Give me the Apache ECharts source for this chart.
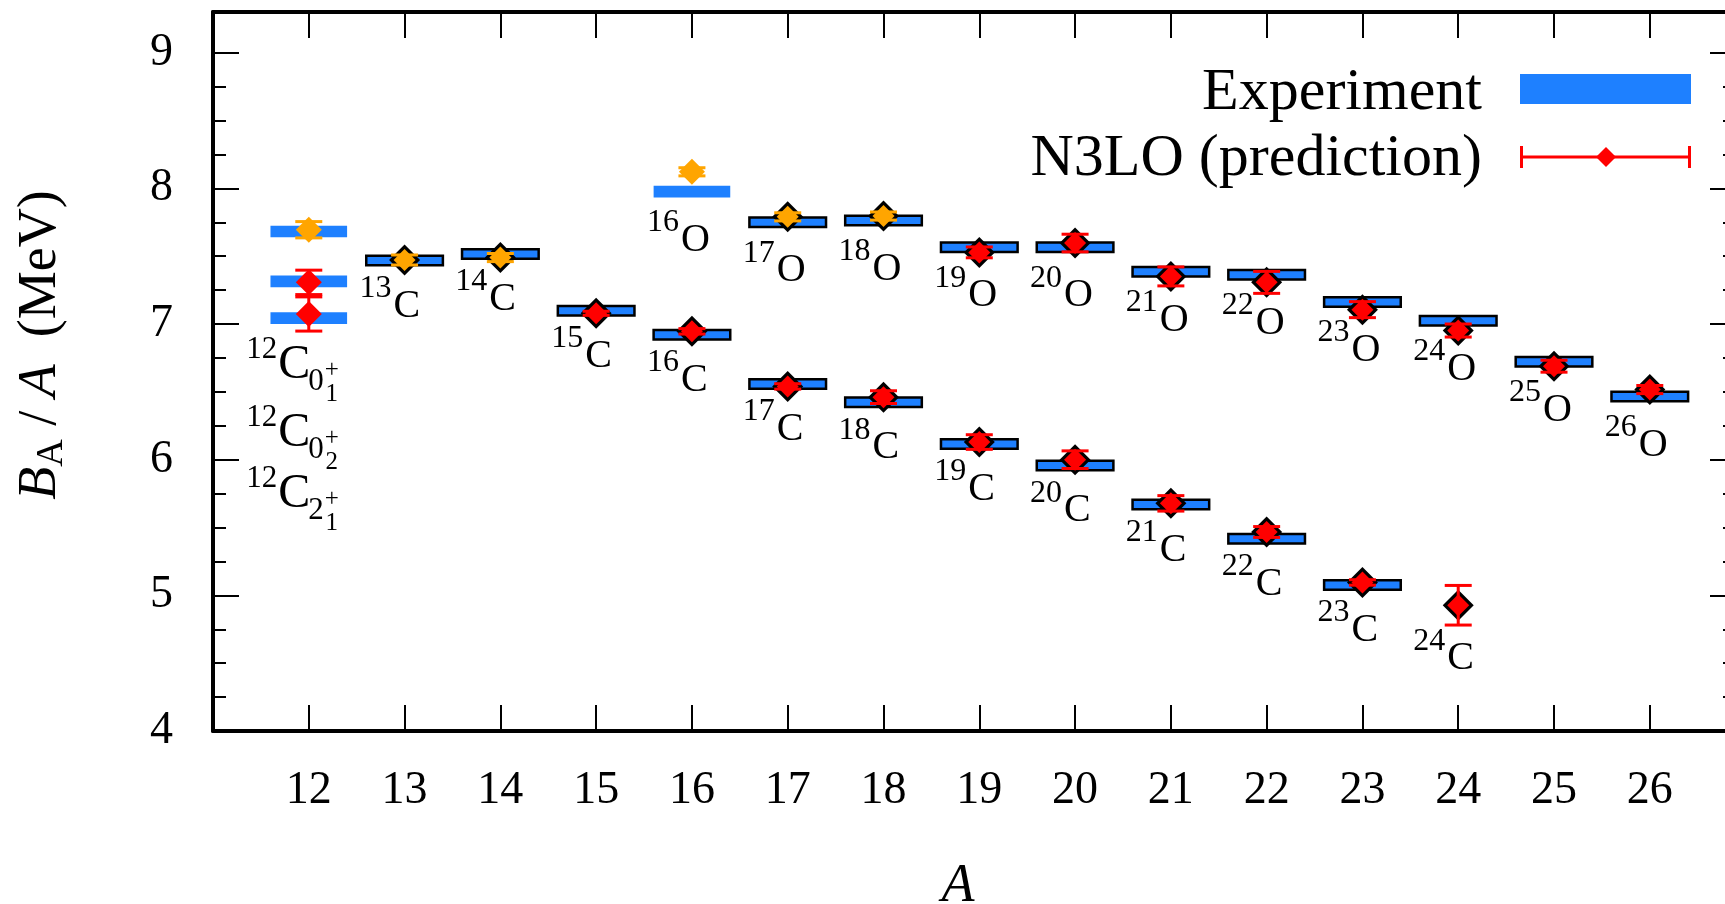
<!DOCTYPE html>
<html>
<head>
<meta charset="utf-8">
<script src="https://cdn.jsdelivr.net/npm/echarts@6/dist/echarts.min.js"></script>
<style>
html,body{margin:0;padding:0;background:#fff;}
#chart{width:1725px;height:904px;}
</style>
</head>
<body>
<div id="chart"></div>
<script>
// ---------------- DATA ----------------
const xTicks = [12,13,14,15,16,17,18,19,20,21,22,23,24,25,26];
const yTicks = [4,5,6,7,8,9];

// 12C states (order of the label column: 0_1+, 0_2+, 2_1+)
const c12StateJ      = ['0','0','2'];
const c12StateIndex  = ['1','2','1'];
const c12Exp   = [7.682, 7.044, 7.314];
const c12Pred  = [7.695, 7.074, 7.307];
const c12Err   = [0.060, 0.126, 0.090];
const c12Fit   = [true, false, false];

// Carbon isotopes
const carbonA    = [13,14,15,16,17,18,19,20,21,22,23,24];
const carbonExp  = [7.468,7.517,7.097,6.920,6.558,6.424,6.116,5.958,5.669,5.418,5.077,null];
const carbonPred = [7.472,7.490,7.079,6.946,6.540,6.461,6.130,6.000,5.678,5.467,5.095,4.927];
const carbonErr  = [0.037,0.030,0.015,0.020,0.020,0.047,0.054,0.065,0.057,0.040,0.020,0.146];
const carbonFit  = [true,true,false,false,false,false,false,false,false,false,false,false];

// Oxygen isotopes
const oxygenA    = [16,17,18,19,20,21,22,23,24,25,26];
const oxygenExp  = [7.976,7.750,7.763,7.565,7.565,7.386,7.364,7.163,7.025,6.721,6.465];
const oxygenPred = [8.122,7.790,7.796,7.528,7.597,7.351,7.307,7.106,6.952,6.689,6.517];
const oxygenErr  = [0.030,0.030,0.030,0.040,0.065,0.070,0.081,0.059,0.048,0.044,0.030];
const oxygenFit  = [true,true,true,false,false,false,false,false,false,false,false];

const legendExperiment = 'Experiment';
const legendPrediction = 'N3LO (prediction)';

// ---------------- STYLE ----------------
const FONT = '"Liberation Serif","Times New Roman",Times,serif';
const BLUE = '#1E80FF', RED = '#FF0000', ORANGE = '#FFA500';

// ---------------- BUILD ----------------
const points = [];
c12Exp.forEach((e,i)=>points.push({a:12, exp:e, pred:c12Pred[i], err:c12Err[i], fit:c12Fit[i], framed:false}));
carbonA.forEach((a,i)=>points.push({a, el:'C', exp:carbonExp[i], pred:carbonPred[i], err:carbonErr[i], fit:carbonFit[i], framed:true}));
oxygenA.forEach((a,i)=>points.push({a, el:'O', exp:oxygenExp[i], pred:oxygenPred[i], err:oxygenErr[i], fit:oxygenFit[i], framed:(a!==16)}));

const isoLabels = points.filter(p=>p.el).map(p=>({a:p.a, el:p.el, hasExp:p.exp!=null, anchor:(p.exp!=null?p.exp:p.pred)}));

const yMinor = [];
for (let i=0;i<yTicks.length-1;i++) for (let k=1;k<4;k++) yMinor.push(+(yTicks[i]+(yTicks[i+1]-yTicks[i])*k/4).toFixed(4));

function axisCommonX(pos, showLabel){
  return {type:'value', position:pos, min:11, max:26.9,
    axisLine:{show:true, onZero:false, lineStyle:{color:'#000', width:4}},
    axisTick:{show:true, inside:true, length:26, lineStyle:{color:'#000', width:2}, customValues:xTicks},
    axisLabel:{show:showLabel, customValues:xTicks, margin:37, fontSize:46, lineHeight:46, fontFamily:FONT, color:'#000'},
    splitLine:{show:false}};
}
function axisY(pos, major){
  return {type:'value', position:pos, min:4, max:9.3,
    axisLine:{show:major, onZero:false, lineStyle:{color:'#000', width:4}},
    axisTick:{show:true, inside:true, length:major?26:13, lineStyle:{color:'#000', width:2}, customValues: major?yTicks:yMinor},
    axisLabel:{show:(major && pos==='left'), customValues:yTicks, margin:40, fontSize:46, fontFamily:FONT, color:'#000'},
    splitLine:{show:false}};
}

function barSeries(framed){
  return {type:'custom', z:2, silent:true, coordinateSystem:'cartesian2d', xAxisIndex:0, yAxisIndex:0,
    encode:{x:0,y:1},
    data: points.filter(p=>p.exp!=null && p.framed===framed).map(p=>[p.a,p.exp]),
    renderItem(params, api){
      const a=api.value(0), v=api.value(1);
      const l=api.coord([a-0.4,v]), r=api.coord([a+0.4,v]);
      const h = framed?9.5:11.7;
      return {type:'rect', shape:{x:l[0], y:l[1]-h/2, width:r[0]-l[0], height:h},
        style:{fill:BLUE, stroke: framed?'#000':null, lineWidth: framed?2.5:0}};
    }};
}
function errSeries(fit){
  const color = fit?ORANGE:RED;
  return {type:'custom', z:4, silent:true, coordinateSystem:'cartesian2d', xAxisIndex:0, yAxisIndex:0,
    encode:{x:0,y:1},
    data: points.filter(p=>p.fit===fit).map(p=>[p.a,p.pred,p.err]),
    renderItem(params, api){
      const a=api.value(0), v=api.value(1), e=api.value(2);
      const t=api.coord([a,v+e]), b=api.coord([a,v-e]);
      const hw=13.5, st={stroke:color, lineWidth:3};
      return {type:'group', children:[
        {type:'line', shape:{x1:t[0],y1:t[1],x2:b[0],y2:b[1]}, style:st},
        {type:'line', shape:{x1:t[0]-hw,y1:t[1],x2:t[0]+hw,y2:t[1]}, style:st},
        {type:'line', shape:{x1:b[0]-hw,y1:b[1],x2:b[0]+hw,y2:b[1]}, style:st}
      ]};
    }};
}
function diamondSeries(fit){
  return {type:'scatter', z:5, silent:true, xAxisIndex:0, yAxisIndex:0, symbol:'diamond',
    itemStyle:{color: fit?ORANGE:RED, opacity:1},
    data: points.filter(p=>p.fit===fit).map(p=>({value:[p.a,p.pred], symbolSize: p.framed?22:26}))};
}

const option = {
  animation:false,
  backgroundColor:'#ffffff',
  grid:{left:213, top:12, width:1523, height:719, containLabel:false, outerBoundsMode:'none'},
  xAxis:[axisCommonX('bottom',true), axisCommonX('top',false)],
  yAxis:[axisY('left',true), axisY('left',false), axisY('right',true), axisY('right',false)],
  series:[
    barSeries(false), barSeries(true),
    {type:'scatter', z:3, silent:true, xAxisIndex:0, yAxisIndex:0, symbol:'diamond', symbolSize:31,
      itemStyle:{color:'#000', opacity:1},
      data: points.filter(p=>p.framed).map(p=>[p.a,p.pred])},
    errSeries(false), errSeries(true),
    diamondSeries(false), diamondSeries(true),
    {type:'custom', z:6, silent:true, coordinateSystem:'cartesian2d', xAxisIndex:0, yAxisIndex:0,
      encode:{x:0,y:1},
      data: isoLabels.map(l=>[l.a,l.anchor]),
      renderItem(params, api){
        const info = isoLabels[params.dataIndex];
        const p = api.coord([api.value(0), api.value(1)]);
        const capTop = p[1] + (info.hasExp ? (info.el==='O'?35:32) : 40);
        const left = p[0]-11;
        return {type:'group', children:[
          {type:'text', x:left, y:capTop+13.5, style:{text:info.el, fill:'#000', font:'40px '+FONT, align:'left', verticalAlign:'middle'}},
          {type:'text', x:left-2, y:capTop-4, style:{text:String(info.a), fill:'#000', font:'32px '+FONT, align:'right', verticalAlign:'middle'}}
        ]};
      }}
  ]
};

const chart = echarts.init(document.getElementById('chart'), null, {renderer:'canvas', width:1725, height:904});
chart.setOption(option);

// annotations (legend, axis titles, 12C state labels)
const x12 = chart.convertToPixel({xAxisIndex:0}, 12);
const c12RowCenters = [365, 433, 494];
const g = [];
c12RowCenters.forEach((cy,i)=>{
  g.push({type:'text', x:x12-31.5, y:cy-15, style:{text:'12', font:'31px '+FONT, fill:'#000', align:'right', verticalAlign:'middle'}});
  g.push({type:'text', x:x12-30.5, y:cy, style:{text:'C', font:'48px '+FONT, fill:'#000', align:'left', verticalAlign:'middle'}});
  g.push({type:'text', x:x12-0.5, y:cy+17, style:{text:c12StateJ[i], font:'31px '+FONT, fill:'#000', align:'left', verticalAlign:'middle'}});
  g.push({type:'text', x:x12+23, y:cy+5, style:{text:'+', font:'25px '+FONT, fill:'#000', align:'center', verticalAlign:'middle'}});
  g.push({type:'text', x:x12+23, y:cy+29, style:{text:c12StateIndex[i], font:'25px '+FONT, fill:'#000', align:'center', verticalAlign:'middle'}});
});
// legend
g.push({type:'text', x:1482, y:93, style:{text:legendExperiment, font:'60px '+FONT, fill:'#000', align:'right', verticalAlign:'middle'}});
g.push({type:'rect', shape:{x:1520, y:74, width:171, height:30}, style:{fill:BLUE}});
g.push({type:'text', x:1482, y:159, style:{text:legendPrediction, font:'60px '+FONT, fill:'#000', align:'right', verticalAlign:'middle'}});
g.push({type:'line', shape:{x1:1520,y1:157,x2:1691,y2:157}, style:{stroke:RED, lineWidth:3}});
g.push({type:'line', shape:{x1:1521.5,y1:146,x2:1521.5,y2:168}, style:{stroke:RED, lineWidth:3}});
g.push({type:'line', shape:{x1:1689.5,y1:146,x2:1689.5,y2:168}, style:{stroke:RED, lineWidth:3}});
g.push({type:'polygon', shape:{points:[[1606,147],[1616,157],[1606,167],[1596,157]]}, style:{fill:RED}});
// axis titles
g.push({type:'text', x:41, y:345, rotation:Math.PI/2, style:{
  text:'{i|B}{s|A}{n| / }{i|A}{n|  (MeV)}', fill:'#000', align:'center', verticalAlign:'middle',
  rich:{
    i:{fontFamily:FONT, fontStyle:'italic', fontSize:54, lineHeight:60},
    s:{fontFamily:FONT, fontSize:38, lineHeight:22, verticalAlign:'bottom'},
    n:{fontFamily:FONT, fontSize:54, lineHeight:60}
  }}});
g.push({type:'text', x:958, y:887, style:{text:'A', font:'italic 54px '+FONT, fill:'#000', align:'center', verticalAlign:'middle'}});
chart.setOption({graphic:{elements:g}});
</script>
</body>
</html>
